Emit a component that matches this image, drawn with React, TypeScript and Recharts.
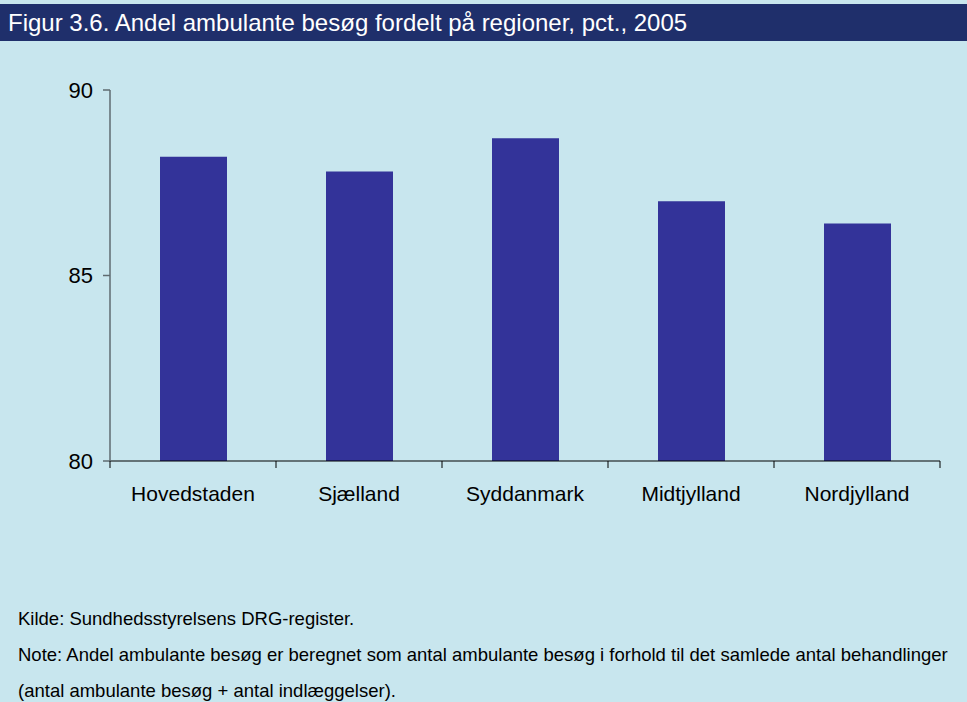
import { BarChart, Bar, XAxis, YAxis } from 'recharts';

const regions = ['Hovedstaden', 'Sjælland', 'Syddanmark', 'Midtjylland', 'Nordjylland'];
const shares = [88.2, 87.8, 88.7, 87.0, 86.4];
const yTicks = [80, 85, 90];

const data = regions.map((region, i) => ({ region, share: shares[i] }));

const font = 'Arial, "Liberation Sans", sans-serif';

// category ticks sit between the bars, so draw them at the band edges
function RegionTick(props: any) {
  const { x, y, payload, index, visibleTicksCount } = props;
  const half = payload.offset || 0;
  const axisY = y - 8;
  return (
    <g>
      <line x1={x - half} y1={axisY} x2={x - half} y2={axisY + 7} stroke="#000" />
      {index === visibleTicksCount - 1 && (
        <line x1={x + half} y1={axisY} x2={x + half} y2={axisY + 7} stroke="#000" />
      )}
      <text x={x} y={axisY + 40} textAnchor="middle" fontSize={21} fill="#000" fontFamily={font}>
        {payload.value}
      </text>
    </g>
  );
}

export default function App() {
  return (
    <div
      style={{
        position: 'absolute',
        left: 0,
        top: 0,
        width: 967,
        height: 702,
        background: '#C8E6EE',
        overflow: 'hidden',
        fontFamily: font,
      }}
    >
      <div
        style={{
          position: 'absolute',
          left: 0,
          top: 4,
          width: 967,
          height: 37,
          background: '#1F2F6B',
          color: '#fff',
          fontSize: 24,
          lineHeight: '37px',
          paddingLeft: 8,
          boxSizing: 'border-box',
          whiteSpace: 'nowrap',
        }}
      >
        Figur 3.6. Andel ambulante besøg fordelt på regioner, pct., 2005
      </div>
      <div style={{ position: 'absolute', left: 0, top: 0 }}>
        <BarChart
          width={967}
          height={540}
          data={data}
          margin={{ top: 90, right: 27, bottom: 39, left: 0 }}
        >
          <XAxis
            dataKey="region"
            stroke="#000"
            tickLine={false}
            tick={<RegionTick />}
            height={40}
            interval={0}
          />
          <YAxis
            domain={[80, 90]}
            ticks={yTicks}
            width={110}
            stroke="#5F6B70"
            strokeWidth={1.5}
            tickSize={7}
            tickMargin={10}
            tick={{ fill: '#000', fontSize: 22, fontFamily: font }}
          />
          <Bar dataKey="share" fill="#333399" barSize={67} isAnimationActive={false} />
        </BarChart>
      </div>
      <div
        style={{
          position: 'absolute',
          left: 18,
          top: 601,
          fontSize: 18.5,
          color: '#000',
          lineHeight: '36px',
          whiteSpace: 'nowrap',
        }}
      >
        <div>Kilde: Sundhedsstyrelsens DRG-register.</div>
        <div>Note: Andel ambulante besøg er beregnet som antal ambulante besøg i forhold til det samlede antal behandlinger</div>
        <div>(antal ambulante besøg + antal indlæggelser).</div>
      </div>
    </div>
  );
}
